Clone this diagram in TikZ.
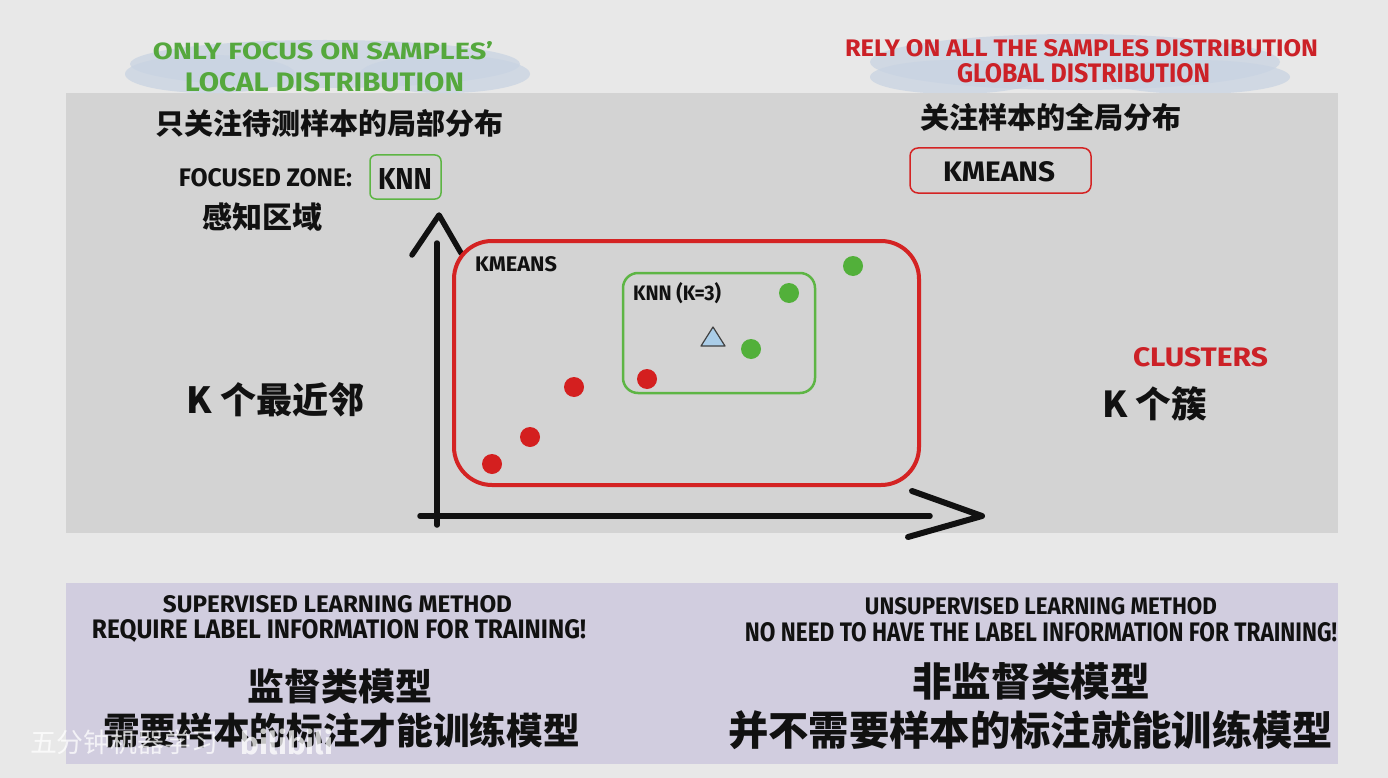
\documentclass[tikz,border=0pt]{standalone}
\usepackage{fontspec}
\usepackage{graphicx}
\setmainfont{Fira Sans}
\newfontfamily\cjk{Noto Sans CJK SC}
\definecolor{bgc}{HTML}{E8E8E8}
\definecolor{panelc}{HTML}{D3D3D3}
\definecolor{lowc}{HTML}{D1CDDF}
\definecolor{cloudc}{HTML}{C8D3E2}
\definecolor{greent}{HTML}{55A83D}
\definecolor{redt}{HTML}{CC2127}
\definecolor{greenl}{HTML}{5DB544}
\definecolor{redl}{HTML}{D42323}
\definecolor{greend}{HTML}{52B03A}
\definecolor{redd}{HTML}{D41F1F}
\definecolor{trib}{HTML}{AACDE8}
\definecolor{ink}{HTML}{111111}
\newcommand{\ft}[3]{\resizebox{#1pt}{#2pt}{\bfseries #3}}
\newcommand{\fc}[2]{\resizebox{#1pt}{!}{\cjk\bfseries #2}}
\tikzset{
  lbl/.style={inner sep=0pt, outer sep=0pt, anchor=center, text=ink},
  gdot/.style={circle, fill=greend, minimum size=20pt, inner sep=0pt},
  rdot/.style={circle, fill=redd, minimum size=20pt, inner sep=0pt},
  axisline/.style={draw=ink, line width=5.5pt, line cap=round, line join=round},
  cloud/.style={fill=cloudc, opacity=0.75},
}
\begin{document}
\begin{tikzpicture}[x=1pt,y=-1pt]
\useasboundingbox (0,0) rectangle (1388,778);
\fill[bgc] (0,0) rectangle (1388,778);
% clouds
\fill[cloud] (325,64) ellipse [x radius=195, y radius=24];
\fill[cloud] (210,74) ellipse [x radius=85, y radius=19];
\fill[cloud] (445,74) ellipse [x radius=85, y radius=19];
\fill[cloud] (1075,62) ellipse [x radius=205, y radius=28];
\fill[cloud] (955,77) ellipse [x radius=85, y radius=17];
\fill[cloud] (1195,77) ellipse [x radius=95, y radius=17];
% panels
\fill[panelc] (66,93) rectangle (1338,533);
\fill[lowc] (66,583) rectangle (1338,764);

% top-left headings
\node[lbl, text=greent] (h1) at (323,51) {\ft{340}{18}{ONLY FOCUS ON SAMPLES'}};
\node[lbl, text=greent] (h2) at (324.5,82.5) {\ft{279}{19}{LOCAL DISTRIBUTION}};
\node[lbl] (c1) at (329,123) {\fc{348}{只关注待测样本的局部分布}};
\node[lbl] (fz) at (265.5,178) {\ft{173}{18}{FOCUSED ZONE:}};
\draw[greenl, line width=1.5pt, rounded corners=6pt] (370,155) rectangle (441,199);
\node[lbl] (knnb) at (405,178.5) {\ft{54}{21}{KNN}};
\node[lbl] (c2) at (262,217) {\fc{120}{感知区域}};

% top-right headings
\node[lbl, text=redt] (h3) at (1081.5,48.5) {\ft{473}{17}{RELY ON ALL THE SAMPLES DISTRIBUTION}};
\node[lbl, text=redt] (h4) at (1083.5,73.5) {\ft{253}{19}{GLOBAL DISTRIBUTION}};
\node[lbl] (c3) at (1051,117) {\fc{262}{关注样本的全局分布}};
\draw[redl, line width=1.5pt, rounded corners=8pt] (910,148) rectangle (1091,193);
\node[lbl] (kmb) at (999,172) {\ft{112}{20}{KMEANS}};

% side labels
\node[lbl] (c4) at (276,400) {\fc{178}{K 个最近邻}};
\node[lbl, text=redt] (cl) at (1200.5,357.5) {\ft{135}{19}{CLUSTERS}};
\node[lbl] (c5) at (1154.5,404) {\fc{105}{K 个簇}};

% chart
\coordinate (yb) at (437,525);
\coordinate (yt) at (437,243);
\coordinate (ya1) at (412,255);
\coordinate (yap) at (439,215);
\coordinate (ya2) at (461,253);
\coordinate (xl) at (420,516);
\coordinate (xr) at (930,516);
\coordinate (xa1) at (912,491);
\coordinate (xap) at (982,516);
\coordinate (xa2) at (908,537);
\draw[axisline] (yb) -- (yt);
\draw[axisline] (ya1) -- (yap) -- (ya2);
\draw[axisline] (xl) -- (xr);
\draw[axisline, line width=6pt] (xa1) -- (xap) -- (xa2);

\draw[redl, line width=4pt, rounded corners=38pt] (454,241) rectangle (919,485);
\draw[greenl, line width=2.5pt, rounded corners=15pt] (623,273) rectangle (815,393);
\node[lbl] (kml) at (516,264.5) {\ft{82}{15}{KMEANS}};
\node[lbl] (knl) at (677,293) {\ft{88}{18}{KNN (K=3)}};

\node[gdot] (g1) at (853,266) {};
\node[gdot] (g2) at (789,293) {};
\node[gdot] (g3) at (751,349) {};
\node[rdot] (r1) at (647,379) {};
\node[rdot] (r2) at (574,387) {};
\node[rdot] (r3) at (530,437) {};
\node[rdot] (r4) at (492,464) {};
\draw[fill=trib, draw=ink!80, line width=1.2pt, line join=round] (713,327) -- (725,346) -- (701,346) -- cycle;

% bottom texts
\node[lbl] (b1) at (337.5,604) {\ft{349}{17}{SUPERVISED LEARNING METHOD}};
\node[lbl] (b2) at (339,631) {\ft{494}{19}{REQUIRE LABEL INFORMATION FOR TRAINING!}};
\node[lbl] (b3) at (339.5,686) {\fc{185}{监督类模型}};
\node[lbl] (b4) at (341.5,730) {\fc{477}{需要样本的标注才能训练模型}};
\node[lbl] (b5) at (1041,606) {\ft{352}{17}{UNSUPERVISED LEARNING METHOD}};
\node[lbl] (b6) at (1041,632) {\ft{592}{19}{NO NEED TO HAVE THE LABEL INFORMATION FOR TRAINING!}};
\node[lbl] (b7) at (1031,681) {\fc{238}{非监督类模型}};
\node[lbl] (b8) at (1030.5,730) {\fc{605}{并不需要样本的标注就能训练模型}};

% watermark
\node[lbl, text=white, opacity=0.75] (wm) at (124,742) {\resizebox{188pt}{!}{\cjk 五分钟机器学习}};
\node[lbl, text=white, opacity=0.75] (bl) at (287,742) {\resizebox{92pt}{!}{\bfseries bilibili}};
\end{tikzpicture}
\end{document}
